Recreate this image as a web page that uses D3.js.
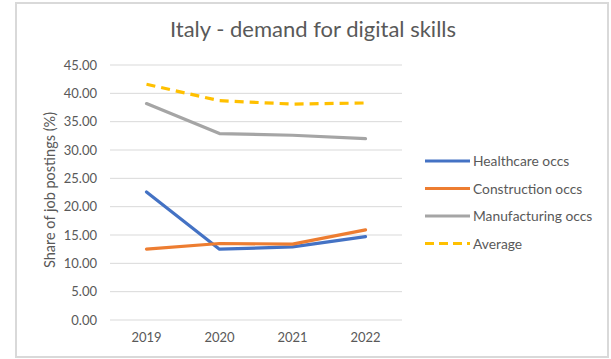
<!DOCTYPE html>
<html>
<head>
<meta charset="utf-8">
<script src="https://cdn.jsdelivr.net/npm/d3@7"></script>
<style>
  html, body { margin: 0; padding: 0; background: #fff; }
  svg { display: block; font-family: Lato, "Open Sans", sans-serif; }
</style>
</head>
<body>
<svg id="chart" width="611" height="359"></svg>
<script>
// Share of job postings requiring digital skills, Italy
const years = ["2019", "2020", "2021", "2022"];
const healthcare = [22.6, 12.5, 12.9, 14.7];
const construction = [12.5, 13.5, 13.4, 15.9];
const manufacturing = [38.2, 32.9, 32.6, 32.0];
const average = [41.6, 38.7, 38.1, 38.3];
const yTicks = [0, 5, 10, 15, 20, 25, 30, 35, 40, 45];

const seriesList = [
  { name: "Healthcare occs", values: healthcare, color: "#4472c4", dash: null },
  { name: "Construction occs", values: construction, color: "#ed7d31", dash: null },
  { name: "Manufacturing occs", values: manufacturing, color: "#a5a5a5", dash: null },
  { name: "Average", values: average, color: "#ffc000", dash: "9,6" }
];

const svg = d3.select("#chart");
const textColor = "#595959";
const font = "Lato, 'Open Sans', sans-serif";

// outer chart frame
svg.append("rect")
  .attr("x", 16).attr("y", 3).attr("width", 592).attr("height", 354)
  .attr("fill", "#fff").attr("stroke", "#d9d9d9").attr("stroke-width", 2);

svg.append("text")
  .attr("x", 313).attr("y", 37)
  .attr("text-anchor", "middle")
  .attr("fill", textColor)
  .style("font-size", "22px")
  .text("Italy - demand for digital skills");

const x = d3.scaleBand().domain(years).range([110, 402]);
const y = d3.scaleLinear().domain([0, 45]).range([320, 65]);

// horizontal gridlines
svg.append("g").selectAll("line").data(yTicks).join("line")
  .attr("x1", 110).attr("x2", 402)
  .attr("y1", d => y(d)).attr("y2", d => y(d))
  .attr("stroke", "#d9d9d9").attr("stroke-width", 1);

// y axis labels
const yAxis = svg.append("g")
  .attr("transform", "translate(97,0)")
  .call(d3.axisLeft(y).tickValues(yTicks).tickFormat(d3.format(".2f")).tickSize(0).tickPadding(0));
yAxis.select(".domain").remove();
yAxis.selectAll("text").attr("fill", textColor).style("font-size", "13px").style("font-family", font);

// x axis labels
const xAxis = svg.append("g")
  .attr("transform", "translate(0,330)")
  .call(d3.axisBottom(x).tickSize(0).tickPadding(3));
xAxis.select(".domain").remove();
xAxis.selectAll("text").attr("fill", textColor).style("font-size", "13px").style("font-family", font);

// y axis title
svg.append("text")
  .attr("transform", "translate(55,190) rotate(-90)")
  .attr("text-anchor", "middle")
  .attr("fill", textColor)
  .style("font-size", "14.5px")
  .text("Share of job postings (%)");

const line = d3.line()
  .x((d, i) => x(years[i]) + x.bandwidth() / 2)
  .y(d => y(d));

svg.append("g").selectAll("path").data(seriesList).join("path")
  .attr("d", s => line(s.values))
  .attr("fill", "none")
  .attr("stroke", s => s.color)
  .attr("stroke-width", 3.2)
  .attr("stroke-linejoin", "round")
  .attr("stroke-linecap", s => s.dash ? "butt" : "round")
  .attr("stroke-dasharray", s => s.dash);

// legend
const legend = svg.append("g").selectAll("g").data(seriesList).join("g")
  .attr("transform", (s, i) => `translate(425,${161 + i * 27.5})`);
legend.append("line")
  .attr("x1", 0).attr("x2", 45).attr("y1", 0).attr("y2", 0)
  .attr("stroke", s => s.color).attr("stroke-width", 3.2)
  .attr("stroke-dasharray", s => s.dash ? "9,5" : null);
legend.append("text")
  .attr("x", 48).attr("y", 5)
  .attr("fill", textColor)
  .style("font-size", "13.8px")
  .text(s => s.name);
</script>
</body>
</html>
